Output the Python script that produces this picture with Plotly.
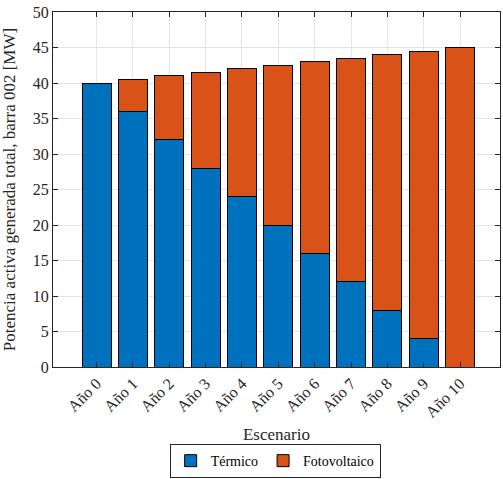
import plotly.graph_objects as go

categories = ["Año 0", "Año 1", "Año 2", "Año 3", "Año 4", "Año 5",
              "Año 6", "Año 7", "Año 8", "Año 9", "Año 10"]
termico = [40, 36, 32, 28, 24, 20, 16, 12, 8, 4, 0]
fotovoltaico = [0, 4.5, 9, 13.5, 18, 22.5, 27, 31.5, 36, 40.5, 45]
y_ticks = [0, 5, 10, 15, 20, 25, 30, 35, 40, 45, 50]

xpos = list(range(len(categories)))
font = "Liberation Serif"

fig = go.Figure()
fig.add_trace(go.Bar(x=xpos, y=termico, name="Térmico",
                     marker=dict(color="#0072BD", line=dict(color="#000000", width=1)),
                     width=0.8))
fig.add_trace(go.Bar(x=xpos, y=fotovoltaico, name="Fotovoltaico",
                     marker=dict(color="#D95319", line=dict(color="#000000", width=1)),
                     width=0.8))

axis_common = dict(showline=True, linecolor="#262626", linewidth=1, mirror="ticks",
                   ticks="inside", ticklen=5, tickcolor="#262626", automargin=False,
                   showgrid=True, gridcolor="#e3e3e3", gridwidth=1, zeroline=False,
                   tickfont=dict(family=font, size=16, color="#262626"))

fig.update_layout(
    barmode="stack",
    width=503, height=479,
    margin=dict(l=53, r=3, t=12, b=112, autoexpand=False),
    plot_bgcolor="white", paper_bgcolor="white",
    font=dict(family=font, color="#262626"),
    xaxis=dict(range=[-1.2, 11.1], tickmode="array", tickvals=xpos, ticktext=categories,
               tickangle=-45,
               title=dict(text="Escenario", font=dict(family=font, size=17, color="#262626"), standoff=12),
               **axis_common),
    yaxis=dict(range=[0, 50], tickmode="array", tickvals=y_ticks,
               title=dict(text="Potencia activa generada total, barra 002 [MW]",
                          font=dict(family=font, size=17, color="#262626"), standoff=14),
               **axis_common),
    legend=dict(orientation="h", xref="container", yref="container",
                x=0.547, xanchor="center", y=0.002, yanchor="bottom",
                bordercolor="#262626", borderwidth=1, bgcolor="white",
                font=dict(family=font, size=14, color="#000000"),
                traceorder="normal"),
    bargap=0.2,
)

fig.write_html("out.html", post_script="document.body.style.margin='0';",
               config={"displayModeBar": False})
